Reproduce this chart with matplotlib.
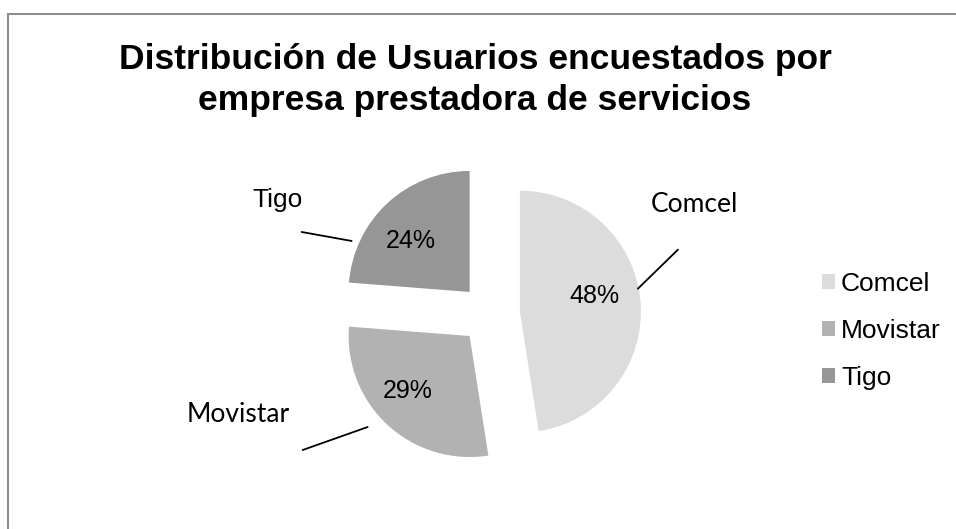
import matplotlib.pyplot as plt
from matplotlib.patches import Rectangle

empresas = ["Comcel", "Movistar", "Tigo"]
usuarios = [48, 29, 24]
colores = ["#dcdcdc", "#b2b2b2", "#969696"]

titulo = ["Distribución de Usuarios encuestados por",
          "empresa prestadora de servicios"]

# layout (pixel offsets from each exploded wedge's centre, y up)
pct_off = [(75, 16), (-62, -55), (-59, 51)]
lbl_off = [(175, 100), (-231, -86), (-192, 85)]   # text baseline centre
lbl_font = [("Lato", 19), ("Lato", 19), ("Liberation Sans", 19)]
line_a = [(118, 23), (-102, -91), (-118, 51)]
line_b = [(158, 62), (-167, -114), (-168, 60)]
title_base = [69, 110]

W, H = 956, 529
fig = plt.figure(figsize=(W / 100, H / 100), dpi=100)
ax = fig.add_axes([0, 0, 1, 1])

wedges, _, autotexts = ax.pie(
    usuarios,
    colors=colores,
    startangle=90,
    counterclock=False,
    center=(490, H - 314),
    radius=121,
    explode=[30, 30, 30],
    autopct="%.0f%%",
    textprops=dict(family="Liberation Sans", fontsize=18, color="black"),
)
ax.set_xlim(0, W)
ax.set_ylim(0, H)
ax.set_aspect("equal")
ax.axis("off")

for w, t, po, lo, a, b, name, (fam, fs) in zip(wedges, autotexts, pct_off, lbl_off,
                                                line_a, line_b, empresas, lbl_font):
    cx, cy = w.center
    t.set_position((cx + po[0], cy + po[1]))
    t.set_ha("center")
    t.set_va("center")
    ax.annotate("", xy=(cx + a[0], cy + a[1]), xytext=(cx + b[0], cy + b[1]),
                arrowprops=dict(arrowstyle="-", color="black", lw=1.3,
                                shrinkA=0, shrinkB=0))
    ax.text(cx + lo[0], cy + lo[1], name, ha="center", va="baseline",
            family=fam, fontsize=fs)

# chart border
ax.add_patch(Rectangle((8, -10), W + 10, H - 13.5 + 10, fill=False,
                       edgecolor="#8c8c8c", lw=1.5, clip_on=False))

for line, yb in zip(titulo, title_base):
    fig.text(475 / W, 1 - yb / H, line, ha="center", va="baseline",
             family="Liberation Sans", fontweight="bold", fontsize=25.5)

ax.legend(wedges, empresas, loc="center left",
          bbox_to_anchor=(822 / W, 1 - 331 / H), bbox_transform=fig.transFigure,
          frameon=False, borderpad=0, borderaxespad=0,
          handlelength=0.5, handleheight=0.5, handletextpad=0.22,
          labelspacing=0.86,
          prop=dict(family="Liberation Sans", size=19))

fig.savefig("out.png", dpi=100)
